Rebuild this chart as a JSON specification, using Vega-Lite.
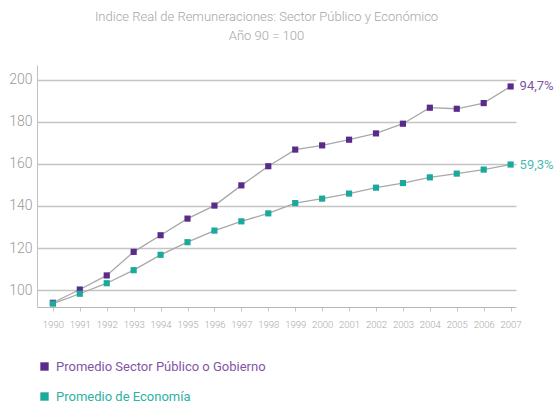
{
  "$schema": "https://vega.github.io/schema/vega-lite/v6.json",
  "width": 479,
  "height": 242,
  "autosize": "none",
  "padding": {"left": 37, "top": 65, "right": 39, "bottom": 105},
  "background": "white",
  "config": {
    "font": "Roboto",
    "view": {"stroke": null}
  },
  "title": {
    "text": "Indice Real de Remuneraciones: Sector Público y Económico",
    "subtitle": "Año 90 = 100",
    "anchor": "middle",
    "frame": "group",
    "dx": -10,
    "color": "#a6a6a6",
    "subtitleColor": "#a6a6a6",
    "fontSize": 13,
    "subtitleFontSize": 13,
    "fontWeight": 300,
    "subtitleFontWeight": 300,
    "offset": 22,
    "subtitlePadding": 6
  },
  "data": {
    "values": [
      {"year": 1990, "serie": "Promedio Sector Público o Gobierno", "value": 94.0},
      {"year": 1991, "serie": "Promedio Sector Público o Gobierno", "value": 100.3},
      {"year": 1992, "serie": "Promedio Sector Público o Gobierno", "value": 107.0},
      {"year": 1993, "serie": "Promedio Sector Público o Gobierno", "value": 118.2},
      {"year": 1994, "serie": "Promedio Sector Público o Gobierno", "value": 126.1},
      {"year": 1995, "serie": "Promedio Sector Público o Gobierno", "value": 134.0},
      {"year": 1996, "serie": "Promedio Sector Público o Gobierno", "value": 140.2},
      {"year": 1997, "serie": "Promedio Sector Público o Gobierno", "value": 149.8},
      {"year": 1998, "serie": "Promedio Sector Público o Gobierno", "value": 158.9},
      {"year": 1999, "serie": "Promedio Sector Público o Gobierno", "value": 166.8},
      {"year": 2000, "serie": "Promedio Sector Público o Gobierno", "value": 168.8},
      {"year": 2001, "serie": "Promedio Sector Público o Gobierno", "value": 171.5},
      {"year": 2002, "serie": "Promedio Sector Público o Gobierno", "value": 174.5},
      {"year": 2003, "serie": "Promedio Sector Público o Gobierno", "value": 179.1},
      {"year": 2004, "serie": "Promedio Sector Público o Gobierno", "value": 186.7},
      {"year": 2005, "serie": "Promedio Sector Público o Gobierno", "value": 186.2},
      {"year": 2006, "serie": "Promedio Sector Público o Gobierno", "value": 188.9},
      {"year": 2007, "serie": "Promedio Sector Público o Gobierno", "value": 196.8, "label": "94,7%"},
      {"year": 1990, "serie": "Promedio de Economía", "value": 93.6},
      {"year": 1991, "serie": "Promedio de Economía", "value": 98.3},
      {"year": 1992, "serie": "Promedio de Economía", "value": 103.3},
      {"year": 1993, "serie": "Promedio de Economía", "value": 109.5},
      {"year": 1994, "serie": "Promedio de Economía", "value": 116.8},
      {"year": 1995, "serie": "Promedio de Economía", "value": 122.8},
      {"year": 1996, "serie": "Promedio de Economía", "value": 128.3},
      {"year": 1997, "serie": "Promedio de Economía", "value": 132.7},
      {"year": 1998, "serie": "Promedio de Economía", "value": 136.5},
      {"year": 1999, "serie": "Promedio de Economía", "value": 141.4},
      {"year": 2000, "serie": "Promedio de Economía", "value": 143.5},
      {"year": 2001, "serie": "Promedio de Economía", "value": 145.9},
      {"year": 2002, "serie": "Promedio de Economía", "value": 148.7},
      {"year": 2003, "serie": "Promedio de Economía", "value": 150.9},
      {"year": 2004, "serie": "Promedio de Economía", "value": 153.6},
      {"year": 2005, "serie": "Promedio de Economía", "value": 155.4},
      {"year": 2006, "serie": "Promedio de Economía", "value": 157.3},
      {"year": 2007, "serie": "Promedio de Economía", "value": 159.7, "label": "59,3%"}
    ]
  },
  "encoding": {
    "x": {
      "field": "year",
      "type": "quantitative",
      "scale": {"domain": [1989.41, 2007.2], "nice": false, "zero": false},
      "axis": {
        "title": null,
        "values": [1990, 1991, 1992, 1993, 1994, 1995, 1996, 1997, 1998, 1999, 2000, 2001, 2002, 2003, 2004, 2005, 2006, 2007],
        "format": "d",
        "grid": false,
        "labelFontSize": 9.5,
        "labelFontWeight": 300,
        "labelColor": "#a8a8a8",
        "labelPadding": 8,
        "tickColor": "#c8c8c8",
        "tickSize": 4,
        "domainColor": "#b8b8b8",
        "labelFlush": false
      }
    },
    "y": {
      "field": "value",
      "type": "quantitative",
      "scale": {"domain": [92, 207], "nice": false, "zero": false},
      "axis": {
        "title": null,
        "values": [100, 120, 140, 160, 180, 200],
        "grid": true,
        "gridColor": "#c4c4c4",
        "gridWidth": 1.6,
        "ticks": false,
        "labelFontSize": 14,
        "labelFontWeight": 300,
        "labelColor": "#9a9a9a",
        "labelPadding": 5,
        "domainColor": "#c0c0c0",
        "labelFlush": false
      }
    }
  },
  "layer": [
    {
      "mark": {"type": "line", "color": "#a8a8a8", "strokeWidth": 1.3},
      "encoding": {"detail": {"field": "serie", "type": "nominal"}}
    },
    {
      "mark": {"type": "point", "shape": "square", "filled": true, "size": 38, "opacity": 1},
      "encoding": {
        "color": {
          "field": "serie",
          "type": "nominal",
          "sort": ["Promedio Sector Público o Gobierno", "Promedio de Economía"],
          "scale": {"domain": ["Promedio Sector Público o Gobierno", "Promedio de Economía"], "range": ["#5b2b8c", "#1aaa9c"]},
          "legend": {
            "title": null,
            "orient": "none",
            "legendX": 1,
            "legendY": 295,
            "direction": "vertical",
            "symbolType": "square",
            "symbolSize": 70,
            "symbolStrokeWidth": 0,
            "labelFontSize": 13,
            "labelOffset": 5,
            "rowPadding": 16,
            "padding": 0,
            "labelLimit": 400,
            "labelColor": {"expr": "datum.value === 'Promedio de Economía' ? '#2db2a4' : '#7f55a8'"}
          }
        }
      }
    },
    {
      "transform": [{"filter": "datum.label != null"}],
      "mark": {"type": "text", "align": "left", "dx": 9, "dy": 0, "fontSize": 13, "baseline": "middle", "opacity": 0.8},
      "encoding": {
        "text": {"field": "label"},
        "color": {"field": "serie", "type": "nominal", "legend": null}
      }
    }
  ]
}
